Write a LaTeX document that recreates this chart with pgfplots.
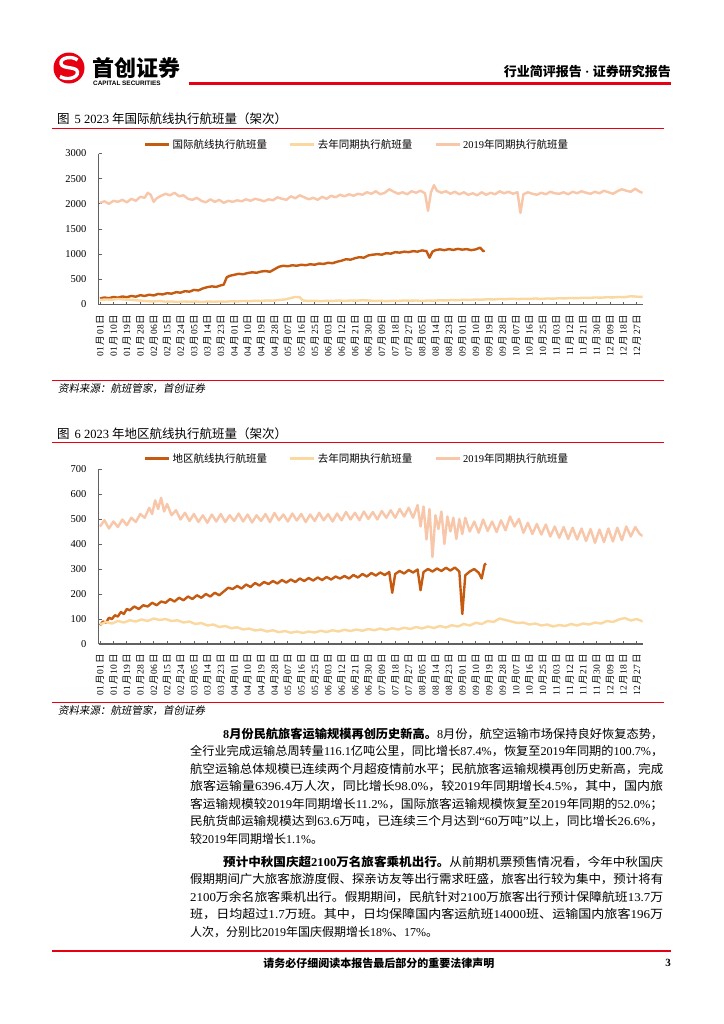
\documentclass[border=0pt]{standalone}
\usepackage{pgfplots}
\pgfplotsset{compat=1.18}
\usepackage{graphicx}
\usepackage{fontspec}
\setmainfont{Liberation Serif}
\setsansfont{Liberation Sans}
\newfontfamily\cjkregular{Noto Sans CJK SC}
\newfontfamily\cjkslant[FakeSlant=0.18]{Noto Sans CJK SC}
\let\cjksel\cjkregular
\XeTeXinterchartokenstate=1
\newXeTeXintercharclass\cjkclass
\newcount\cjkc
\def\setcjkrange#1#2{\cjkc=#1\relax
  \loop\ifnum\cjkc<#2\relax
    \XeTeXcharclass\cjkc=\cjkclass
    \advance\cjkc by 1\relax
  \repeat}
\setcjkrange{"3000}{"3040}
\setcjkrange{"4E00}{"A000}
\setcjkrange{"FF00}{"FFF0}
\XeTeXinterchartoks 0 \cjkclass = {\begingroup\cjksel}
\XeTeXinterchartoks 4095 \cjkclass = {\begingroup\cjksel}
\XeTeXinterchartoks \cjkclass 0 = {\endgroup}
\XeTeXinterchartoks \cjkclass 4095 = {\endgroup}
\newcommand\fs[1]{\fontsize{#1bp}{#1bp}\selectfont}
\newcommand\md[2]{#1\kern1.2bp 月\kern1.2bp #2\kern1.2bp 日}
\definecolor{logored}{RGB}{230,0,18}
\definecolor{cA}{RGB}{197,90,17}
\definecolor{cB}{RGB}{250,216,160}
\definecolor{cC}{RGB}{248,198,168}
\pgfplotsset{
 rep/.style={
  scale only axis, width=544.2bp,
  xmin=-1, xmax=364,
  axis x line*=bottom, axis y line*=left,
  axis line style={black!62, line width=1.1bp},
  tick align=inside, major tick length=3bp,
  tick style={black!62, line width=0.8bp},
  xtick={0,9,...,360},
  xticklabels={\md{01}{01},\md{01}{10},\md{01}{19},\md{01}{28},\md{02}{06},\md{02}{15},\md{02}{24},\md{03}{05},\md{03}{14},\md{03}{23},\md{04}{01},\md{04}{10},\md{04}{19},\md{04}{28},\md{05}{07},\md{05}{16},\md{05}{25},\md{06}{03},\md{06}{12},\md{06}{21},\md{06}{30},\md{07}{09},\md{07}{18},\md{07}{27},\md{08}{05},\md{08}{14},\md{08}{23},\md{09}{01},\md{09}{10},\md{09}{19},\md{09}{28},\md{10}{07},\md{10}{16},\md{10}{25},\md{11}{03},\md{11}{12},\md{11}{21},\md{11}{30},\md{12}{09},\md{12}{18},\md{12}{27}},
  xticklabel style={rotate=90, anchor=east, font=\fs{9.5}},
  xticklabel shift=6.5bp,
  yticklabel style={font=\fs{10.5}},
  yticklabel shift=8.5bp,
  /pgf/number format/assume math mode=true,
  /pgf/number format/1000 sep={},
  legend columns=3,
  legend style={draw=none, fill=none, font=\fs{10.5}, inner sep=0pt,
    nodes={inner xsep=2bp, inner ysep=0pt},
    /tikz/every even column/.append style={column sep=20bp}},
  legend image code/.code={\draw[##1, line width=2.8bp] (0bp,0bp) -- (24bp,0bp);},
 }
}
\begin{document}
\begin{tikzpicture}
\useasboundingbox (0bp,0bp) rectangle (724bp,-1024bp);
\fill[white] (0bp,0bp) rectangle (724bp,-1024bp);
\begin{scope}[x=1bp,y=-1bp]
 % header
 \fill[logored] (69,68) circle (15.5);
 \draw[white, line width=3.4] (77.5,60) .. controls (72,55.5) and (60,57.5) .. (61,63.5) .. controls (62,69.5) and (77,66) .. (77.5,72) .. controls (78,78.5) and (66,80.5) .. (60,76.5);
 \node[anchor=west,inner sep=0pt,font=\bfseries\fs{22}] at (92,68) {首创证券};
 \node[anchor=west,inner sep=0pt,font=\sffamily\bfseries\fs{6.4}] at (93,83) {CAPITAL SECURITIES};
 \draw[logored,line width=2.5bp] (189,83.5) -- (671,83.5);
 \node[anchor=east,inner sep=0pt,font=\bfseries\fs{13}] at (671,71.5) {行业简评报告 · 证券研究报告};
 % figure 5 title
 \node[anchor=west,inner sep=0pt,font=\fs{12.5}] at (57,118.5) {图\hspace{5bp}5 2023 年国际航线执行航班量（架次）};
 \draw[logored,line width=1bp] (52,128) -- (664,128);
 \draw[logored,line width=1bp] (52,380) -- (664,380);
 \node[anchor=west,inner sep=0pt,font=\fs{10.5}] at (58,388.5) {\let\cjksel\cjkslant 资料来源：航班管家，首创证券};
 % figure 6 title
 \node[anchor=west,inner sep=0pt,font=\fs{12.5}] at (57,433.3) {图\hspace{5bp}6 2023 年地区航线执行航班量（架次）};
 \draw[logored,line width=1bp] (52,442) -- (664,442);
 \draw[logored,line width=1bp] (52,702) -- (664,702);
 \node[anchor=west,inner sep=0pt,font=\fs{10.5}] at (58,710.5) {\let\cjksel\cjkslant 资料来源：航班管家，首创证券};
 % paragraph 1
 \node[anchor=base west,inner sep=0pt] at (223,738.3) {\fs{12}\resizebox{440bp}{\height}{{\bfseries 8月份民航旅客运输规模再创历史新高。}8月份，航空运输市场保持良好恢复态势，}};
 \node[anchor=base west,inner sep=0pt] at (190,755.8) {\fs{12}\resizebox{473bp}{\height}{全行业完成运输总周转量116.1亿吨公里，同比增长87.4\%，恢复至2019年同期的100.7\%，}};
 \node[anchor=base west,inner sep=0pt] at (190,773.3) {\fs{12}\resizebox{473bp}{\height}{航空运输总体规模已连续两个月超疫情前水平；民航旅客运输规模再创历史新高，完成}};
 \node[anchor=base west,inner sep=0pt] at (190,790.8) {\fs{12}\resizebox{473bp}{\height}{旅客运输量6396.4万人次，同比增长98.0\%，较2019年同期增长4.5\%，其中，国内旅}};
 \node[anchor=base west,inner sep=0pt] at (190,808.3) {\fs{12}\resizebox{473bp}{\height}{客运输规模较2019年同期增长11.2\%，国际旅客运输规模恢复至2019年同期的52.0\%；}};
 \node[anchor=base west,inner sep=0pt] at (190,825.8) {\fs{12}\resizebox{473bp}{\height}{民航货邮运输规模达到63.6万吨，已连续三个月达到“60万吨”以上，同比增长26.6\%，}};
 \node[anchor=base west,inner sep=0pt] at (190,843.3) {\fs{12}较2019年同期增长1.1\%。};
 % paragraph 2
 \node[anchor=base west,inner sep=0pt] at (223,866.3) {\fs{12}\resizebox{440bp}{\height}{{\bfseries 预计中秋国庆超2100万名旅客乘机出行。}从前期机票预售情况看，今年中秋国庆}};
 \node[anchor=base west,inner sep=0pt] at (190,883.8) {\fs{12}\resizebox{473bp}{\height}{假期期间广大旅客旅游度假、探亲访友等出行需求旺盛，旅客出行较为集中，预计将有}};
 \node[anchor=base west,inner sep=0pt] at (190,901.3) {\fs{12}\resizebox{473bp}{\height}{2100万余名旅客乘机出行。假期期间，民航针对2100万旅客出行预计保障航班13.7万}};
 \node[anchor=base west,inner sep=0pt] at (190,918.8) {\fs{12}\resizebox{473bp}{\height}{班，日均超过1.7万班。其中，日均保障国内客运航班14000班、运输国内旅客196万}};
 \node[anchor=base west,inner sep=0pt] at (190,936.3) {\fs{12}人次，分别比2019年国庆假期增长18\%、17\%。};
 % footer
 \draw[logored,line width=2.5bp] (52,951) -- (671,951);
 \node[inner sep=0pt,font=\bfseries\fs{11}] at (379,963) {请务必仔细阅读本报告最后部分的重要法律声明};
 \node[anchor=east,inner sep=0pt,font=\bfseries\fs{11}] at (671,963) {3};
\end{scope}

\begin{axis}[rep, at={(98.5bp,-304.5bp)}, anchor=south west, height=151bp,
  ymin=0, ymax=3000, ytick={0,500,...,3000},
  legend style={at={(axis description cs:0.0827,1.06)}, anchor=west}]
\addplot[cA, line width=2.4bp, line join=round] coordinates {(0,120)(3,140)(6,125)(9,150)(12,135)(15,160)(18,145)(21,170)(24,155)(27,185)(30,170)(33,195)(36,180)(39,210)(42,200)(45,225)(48,215)(51,245)(54,235)(57,265)(60,255)(63,290)(66,280)(69,320)(72,345)(75,360)(78,350)(81,380)(83,395)(85,540)(87,570)(90,590)(93,610)(96,600)(99,625)(102,640)(105,630)(108,655)(111,665)(114,650)(117,700)(120,750)(123,770)(126,760)(129,780)(132,770)(135,790)(138,780)(141,800)(144,790)(147,815)(150,805)(153,830)(156,820)(159,850)(162,870)(165,900)(168,890)(171,920)(174,940)(177,930)(180,975)(183,990)(186,1000)(189,990)(192,1020)(195,1010)(198,1040)(201,1030)(204,1050)(207,1040)(210,1060)(213,1050)(216,1075)(219,1060)(221,930)(223,1050)(225,1080)(228,1095)(231,1080)(234,1100)(237,1085)(240,1105)(243,1090)(246,1100)(249,1080)(252,1095)(255,1130)(257,1060)(258,1070)};
\addlegendentry{国际航线执行航班量}
\addplot[cB, line width=2.4bp, line join=round] coordinates {(0,90)(4,100)(8,95)(12,110)(16,100)(20,95)(24,85)(28,75)(32,65)(36,60)(40,70)(44,55)(48,60)(52,50)(56,60)(60,55)(64,60)(68,50)(72,60)(76,55)(80,60)(84,55)(88,65)(92,60)(96,70)(100,65)(104,75)(108,70)(112,80)(116,75)(120,90)(124,100)(128,130)(131,150)(134,145)(136,80)(140,70)(144,75)(148,65)(152,75)(156,70)(160,80)(164,70)(168,80)(172,75)(176,85)(180,80)(184,70)(188,75)(192,65)(196,75)(200,70)(204,80)(208,75)(212,80)(216,70)(220,80)(224,75)(228,85)(232,80)(236,90)(240,85)(244,95)(248,90)(252,100)(256,95)(260,105)(264,100)(268,110)(272,105)(276,115)(280,105)(284,115)(288,110)(292,120)(296,110)(300,120)(304,115)(308,125)(312,120)(316,130)(320,125)(324,135)(328,130)(332,140)(336,135)(340,145)(344,140)(348,150)(352,145)(356,165)(360,155)(364,150)};
\addlegendentry{去年同期执行航班量}
\addplot[cC, line width=2.4bp, line join=round] coordinates {(0,2020)(3,2050)(6,2000)(9,2060)(12,2040)(15,2080)(18,2030)(21,2100)(24,2060)(27,2140)(30,2120)(32,2220)(34,2180)(36,2040)(38,2110)(41,2160)(44,2200)(47,2170)(50,2220)(53,2150)(56,2170)(59,2100)(62,2080)(65,2120)(68,2060)(71,2030)(74,2090)(77,2040)(80,2080)(83,2020)(86,2060)(89,2040)(92,2070)(95,2050)(98,2090)(101,2060)(104,2100)(107,2080)(110,2050)(113,2090)(116,2070)(119,2130)(122,2100)(125,2080)(128,2150)(131,2110)(134,2170)(137,2130)(140,2090)(143,2120)(146,2080)(149,2140)(152,2100)(155,2160)(158,2130)(161,2180)(164,2150)(167,2190)(170,2160)(173,2200)(176,2180)(179,2230)(182,2200)(185,2250)(188,2190)(191,2220)(194,2290)(197,2240)(200,2200)(203,2230)(206,2190)(209,2250)(212,2220)(215,2260)(218,2210)(220,1860)(222,2230)(224,2370)(226,2260)(229,2220)(232,2250)(235,2200)(238,2240)(241,2190)(244,2230)(247,2180)(250,2210)(253,2170)(256,2230)(259,2180)(262,2220)(265,2190)(268,2250)(271,2210)(274,2240)(277,2200)(280,2230)(282,1820)(284,2190)(287,2230)(290,2200)(293,2180)(296,2220)(299,2190)(302,2240)(305,2210)(308,2200)(311,2230)(314,2190)(317,2240)(320,2210)(323,2250)(326,2220)(329,2200)(332,2240)(335,2210)(338,2260)(341,2230)(344,2200)(347,2250)(350,2290)(353,2260)(356,2240)(359,2300)(362,2240)(364,2220)};
\addlegendentry{2019年同期执行航班量}
\end{axis}

\begin{axis}[rep, at={(98.5bp,-644bp)}, anchor=south west, height=175bp,
  ymin=0, ymax=700, ytick={0,100,...,700},
  legend style={at={(axis description cs:0.0827,1.061)}, anchor=west}]
\addplot[cA, line width=2.4bp, line join=round] coordinates {(0,75)(2,90)(4,85)(6,105)(8,100)(10,115)(12,110)(14,128)(16,120)(18,140)(20,135)(23,150)(26,140)(29,155)(32,150)(35,165)(38,155)(41,170)(44,165)(47,180)(50,170)(53,185)(56,175)(59,190)(62,180)(65,195)(68,185)(71,200)(74,190)(77,205)(80,195)(83,210)(86,225)(89,220)(92,232)(95,222)(98,238)(101,228)(104,244)(107,234)(110,248)(113,240)(116,252)(119,242)(122,256)(125,246)(128,258)(131,248)(134,262)(137,252)(140,264)(143,254)(146,266)(149,256)(152,268)(155,258)(158,270)(161,262)(164,272)(167,262)(170,276)(173,266)(176,280)(179,270)(182,284)(185,274)(188,286)(191,276)(194,288)(196,205)(198,280)(201,292)(204,282)(207,296)(210,286)(213,298)(215,215)(217,288)(220,300)(223,290)(226,302)(229,292)(232,305)(235,294)(238,306)(241,290)(243,120)(245,275)(248,290)(251,300)(254,285)(256,262)(258,318)(259,322)};
\addlegendentry{地区航线执行航班量}
\addplot[cB, line width=2.4bp, line join=round] coordinates {(0,78)(4,88)(8,82)(12,92)(16,86)(20,95)(24,90)(28,98)(32,92)(36,102)(40,96)(44,100)(48,92)(52,95)(56,86)(60,90)(64,80)(68,84)(72,74)(76,78)(80,68)(84,72)(88,63)(92,67)(96,58)(100,62)(104,54)(108,58)(112,50)(116,55)(120,47)(124,52)(128,45)(132,50)(136,44)(140,50)(144,46)(148,53)(152,48)(156,55)(160,50)(164,57)(168,52)(172,58)(176,53)(180,60)(184,55)(188,62)(192,56)(196,63)(200,58)(204,65)(208,60)(212,68)(216,62)(220,70)(224,64)(228,72)(232,66)(236,75)(240,70)(244,80)(248,74)(252,85)(256,80)(260,92)(264,88)(268,102)(272,96)(276,90)(280,84)(284,86)(288,78)(292,82)(296,74)(300,78)(304,70)(308,76)(312,72)(316,80)(320,74)(324,82)(328,78)(332,86)(336,82)(340,92)(344,88)(348,98)(352,104)(356,94)(360,100)(364,90)};
\addlegendentry{去年同期执行航班量}
\addplot[cC, line width=2.4bp, line join=round] coordinates {(0,470)(3,495)(6,462)(9,490)(12,468)(15,498)(18,475)(21,505)(24,488)(27,520)(30,505)(33,545)(35,520)(37,575)(39,540)(41,585)(43,530)(45,560)(48,515)(51,535)(54,498)(57,525)(60,492)(63,520)(66,488)(69,515)(72,485)(75,518)(78,490)(81,520)(84,488)(87,515)(90,492)(93,522)(96,490)(99,518)(102,486)(105,515)(108,492)(111,520)(114,488)(117,524)(120,495)(123,518)(126,490)(129,522)(132,494)(135,520)(138,488)(141,518)(144,492)(147,525)(150,495)(153,520)(156,490)(159,522)(162,495)(165,528)(168,498)(171,525)(174,495)(177,530)(180,500)(183,528)(186,498)(189,532)(192,505)(195,535)(198,505)(201,540)(204,510)(207,545)(210,505)(213,556)(215,470)(217,550)(219,418)(221,540)(223,348)(225,515)(227,460)(229,530)(231,400)(233,510)(235,450)(237,505)(239,420)(241,500)(243,440)(245,505)(248,450)(251,490)(254,445)(257,498)(260,452)(263,490)(266,448)(269,495)(272,455)(275,510)(278,470)(281,500)(284,445)(287,485)(290,440)(293,480)(296,438)(299,478)(302,430)(305,470)(308,425)(311,468)(314,420)(317,465)(320,418)(323,462)(326,412)(329,460)(332,405)(335,458)(338,408)(341,462)(344,410)(347,465)(350,415)(353,470)(356,430)(359,468)(362,440)(364,432)};
\addlegendentry{2019年同期执行航班量}
\end{axis}
\end{tikzpicture}
\end{document}
